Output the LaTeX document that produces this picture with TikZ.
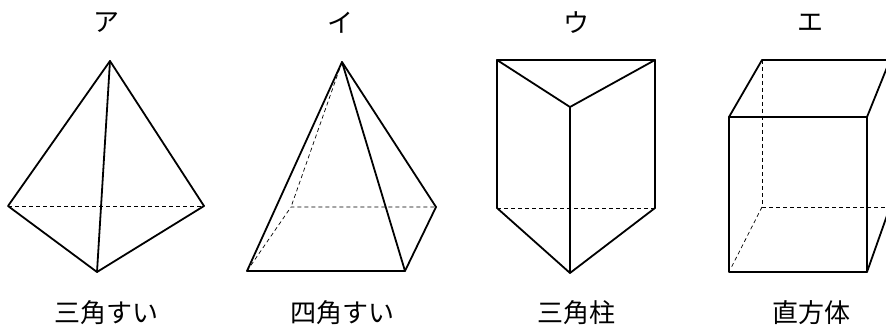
\documentclass[tikz,border=0pt]{standalone}
\usepackage{fontspec}
\newfontfamily\jpfont{Noto Sans CJK JP}
\usetikzlibrary{calc}

\begin{document}
\begin{tikzpicture}[x=1pt,y=-1pt,
  edge/.style={line width=1.8pt,line join=round,line cap=round},
  hidden/.style={line width=0.7pt,dash pattern=on 4pt off 3pt},
  toplabel/.style={font=\jpfont\fontsize{26}{30}\selectfont},
  solidname/.style={font=\jpfont\fontsize{26}{30}\selectfont}]
\clip (0,0) rectangle (886,326);

% tetrahedron
\coordinate (a top) at (110,61);
\coordinate (a left) at (8,206);
\coordinate (a right) at (204,206);
\coordinate (a front) at (97,272);
\draw [hidden] (a left) -- (a right);
\draw [edge] (a left) -- (a top) -- (a right) -- (a front) -- cycle;
\draw [edge] (a top) -- (a front);
\node [toplabel] (a label) at (106,23) {ア};
\node [solidname] (a name) at (106,313) {三角すい};

% square pyramid
\coordinate (b top) at (342,62);
\coordinate (b fl) at (247,271);
\coordinate (b fr) at (405,271);
\coordinate (b br) at (436,207);
\coordinate (b bl) at (291,207);
\draw [hidden] (b top) -- (b bl);
\draw [hidden] (b fl) -- (b bl) -- (b br);
\draw [edge] (b fl) -- (b top) -- (b br) -- (b fr) -- cycle;
\draw [edge] (b top) -- (b fr);
\node [toplabel] (b label) at (340,23) {イ};
\node [solidname] (b name) at (342,313) {四角すい};

% triangular prism
\coordinate (c tl) at (497,60);
\coordinate (c tr) at (655,60);
\coordinate (c tf) at (570,107);
\coordinate (c bl) at (497,208);
\coordinate (c br) at (655,208);
\coordinate (c bf) at (570,273);
\draw [hidden] (c bl) -- (c br);
\draw [edge] (c tl) -- (c tr) -- (c tf) -- cycle;
\draw [edge] (c tl) -- (c bl) -- (c bf) -- (c br) -- (c tr);
\draw [edge] (c tf) -- (c bf);
\node [toplabel] (c label) at (576,23) {ウ};
\node [solidname] (c name) at (576,313) {三角柱};

% cuboid
\coordinate (d ftl) at (729,117);
\coordinate (d ftr) at (867,117);
\coordinate (d fbr) at (867,272);
\coordinate (d fbl) at (729,272);
\coordinate (d btl) at (762,60);
\coordinate (d btr) at (890,60);
\coordinate (d bbr) at (890,207);
\coordinate (d bbl) at (762,207);
\draw [hidden] (d btl) -- (d bbl) -- (d bbr);
\draw [hidden,shorten >=6pt] (d bbl) -- (d fbl);
\draw [edge] (d ftl) rectangle (d fbr);
\draw [edge] (d ftl) -- (d btl) -- (d btr) -- (d ftr);
\draw [edge] (d fbr) -- (d bbr) -- (d btr);
\node [toplabel] (d label) at (810,23) {エ};
\node [solidname] (d name) at (811,313) {直方体};

\end{tikzpicture}
\end{document}
